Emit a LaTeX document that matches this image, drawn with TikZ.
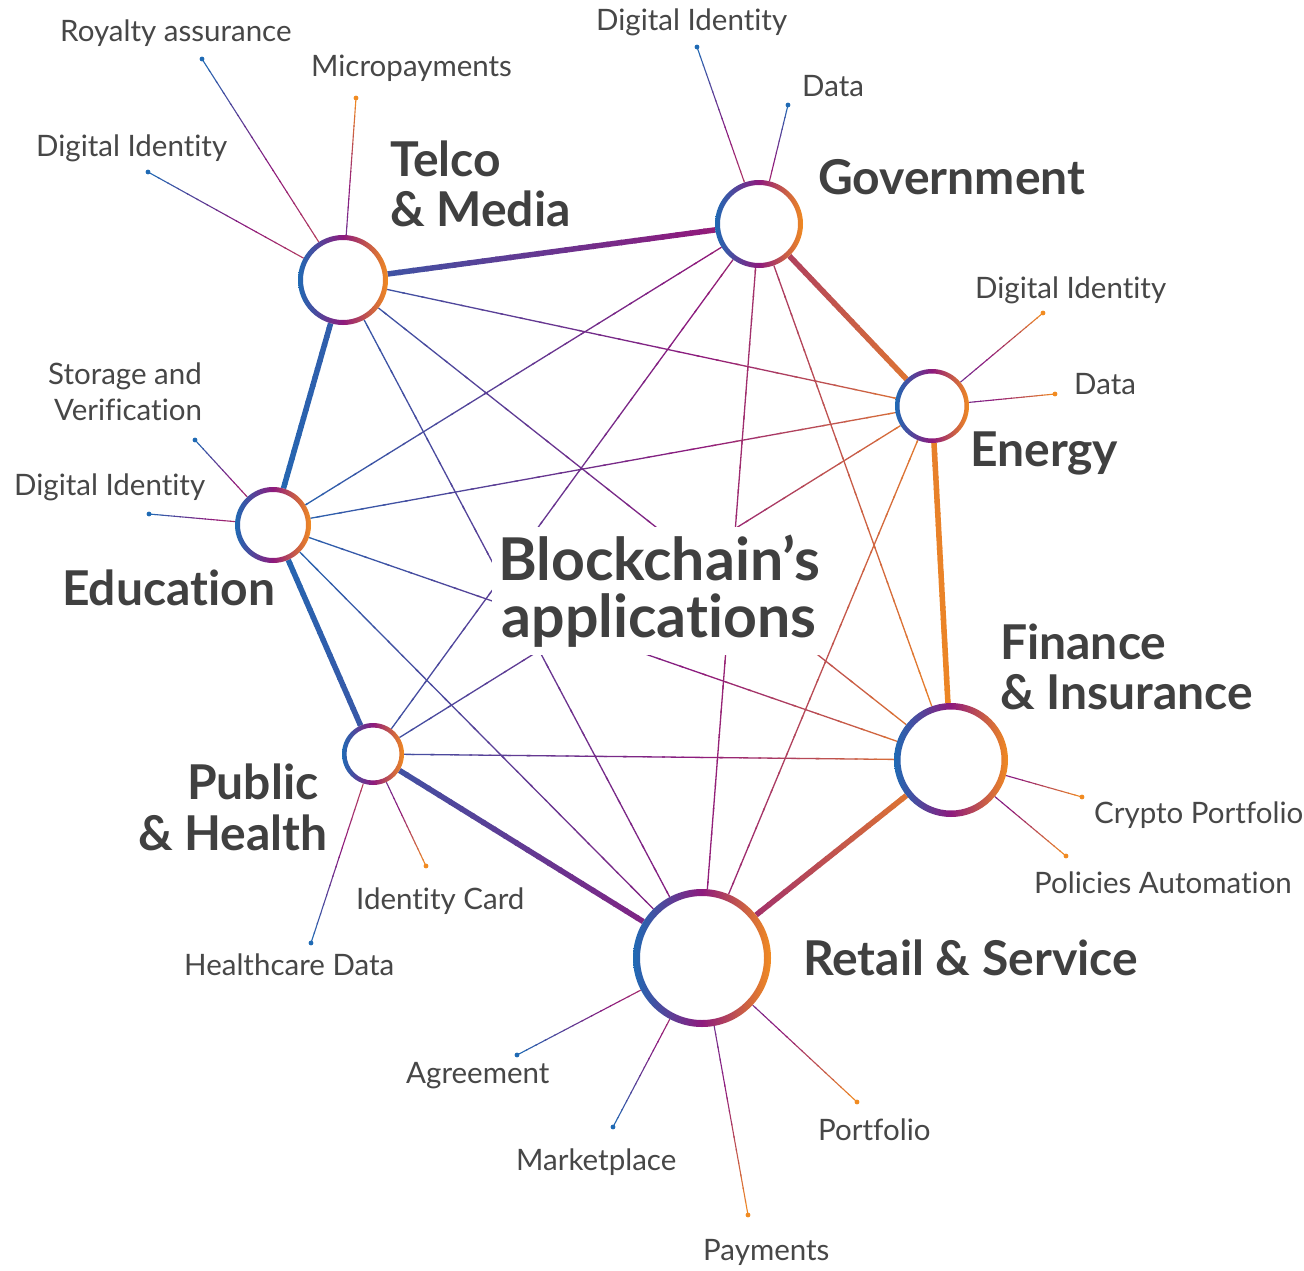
\documentclass[tikz,border=0pt]{standalone}
\usepackage{fontspec}
\setmainfont{Lato}[Ligatures=NoCommon]
\usetikzlibrary{calc}
\definecolor{cblue}{HTML}{1F6AB4}
\definecolor{cpurple}{HTML}{8E1A7D}
\definecolor{corange}{HTML}{F18B21}
\definecolor{cred}{HTML}{C9524E}
\definecolor{cviolet}{HTML}{5A4FA3}
\definecolor{txt}{HTML}{404040}
\definecolor{lbltext}{HTML}{474747}

% colour of a point from its x position (global left-to-right gradient)
\newcommand\gradcolor[1]{%
  \pgfmathsetmacro\gpa{max(0,min(100,(#1-260)/4.4))}%
  \pgfmathsetmacro\gpb{max(0,min(100,(#1-700)/2.6))}%
  \ifdim #1 pt<700pt \colorlet{segc}{cpurple!\gpa!cblue}\else\colorlet{segc}{corange!\gpb!cpurple}\fi}

% gradient connector between two named nodes
\newcommand\gline[3]{%
  \foreach \gi in {0,...,29}{%
    \pgfmathsetmacro\gta{\gi/30}%
    \pgfmathsetmacro\gtb{min(1,(\gi+1.15)/30)}%
    \pgfmathsetmacro\gtm{(\gi+0.5)/30}%
    \path ($(#2)!\gtm!(#3)$);\pgfgetlastxy{\gxx}{\gyy}%
    \pgfmathsetmacro\gxv{\gxx}%
    \gradcolor{\gxv}%
    \draw[line width=#1,segc] ($(#2)!\gta!(#3)$) -- ($(#2)!\gtb!(#3)$);%
  }}

% leaf line: dot, node, colour at dot, middle colour, colour at node
\newcommand\leaf[5]{%
  \foreach \gi in {0,...,19}{%
    \pgfmathsetmacro\gta{\gi/20}%
    \pgfmathsetmacro\gtb{min(1,(\gi+1.15)/20)}%
    \pgfmathsetmacro\gpm{max(0,min(100,(\gi+0.5)*10))}%
    \pgfmathsetmacro\gpn{max(0,min(100,(\gi-9.5)*10))}%
    \ifnum\gi<10 \colorlet{segc}{#4!\gpm!#3}\else\colorlet{segc}{#5!\gpn!#4}\fi
    \draw[line width=1.1pt,segc] ($(#1)!\gta!(#2)$) -- ($(#1)!\gtb!(#2)$);%
  }}

% gradient ring on a node
\newcommand\ring[3]{%
  \pgfmathsetmacro\rin{#2-#3}%
  \fill[white] (#1.center) circle (#2pt);
  \shade[left color=cblue, right color=corange, middle color=cpurple, even odd rule]
    (#1.center) circle (#2pt) (#1.center) circle (\rin pt);}

\begin{document}
\begin{tikzpicture}[x=1pt,y=-1pt,
  nd/.style={circle,inner sep=0pt,outer sep=0pt},
  lbl/.style={font=\fontsize{29.5}{32}\selectfont, text=lbltext, anchor=base west, inner sep=0pt},
  ttl/.style={font=\fontsize{48}{50}\selectfont\bfseries, text=txt, anchor=base west, inner sep=0pt}
 ]
\useasboundingbox (0,0) rectangle (1304,1271);
\fill[white] (0,0) rectangle (1304,1271);

% nodes (rings drawn later)
\node[nd,minimum size=90pt]  (telco)   at (343,280) {};
\node[nd,minimum size=88pt]  (gov)     at (759,224) {};
\node[nd,minimum size=74pt]  (energy)  at (932,406) {};
\node[nd,minimum size=114pt] (finance) at (951,760) {};
\node[nd,minimum size=138pt] (retail)  at (702,958) {};
\node[nd,minimum size=62pt]  (public)  at (373,754) {};
\node[nd,minimum size=76pt]  (edu)     at (273,525) {};

% leaf end points
\coordinate (r1) at (202,59);
\coordinate (r2) at (356,98);
\coordinate (r3) at (148,172);
\coordinate (g1) at (697,47);
\coordinate (g2) at (788,105);
\coordinate (e1) at (1043,313);
\coordinate (e2) at (1055,394);
\coordinate (u1) at (195,440);
\coordinate (u2) at (149,514);
\coordinate (p1) at (426,866);
\coordinate (p2) at (311,943);
\coordinate (f1) at (1082,797);
\coordinate (f2) at (1066,856);
\coordinate (t1) at (517,1055);
\coordinate (t2) at (613,1127);
\coordinate (t3) at (748,1215);
\coordinate (t4) at (857,1102);

% thin connectors
\gline{1.3pt}{telco}{energy}
\gline{1.3pt}{telco}{finance}
\gline{1.3pt}{telco}{retail}
\gline{1.3pt}{edu}{gov}
\gline{1.3pt}{public}{gov}
\gline{1.3pt}{retail}{gov}
\gline{1.3pt}{gov}{finance}
\gline{1.3pt}{edu}{energy}
\gline{1.3pt}{retail}{energy}
\gline{1.3pt}{public}{energy}
\gline{1.3pt}{edu}{finance}
\gline{1.3pt}{edu}{retail}
\gline{1.3pt}{public}{finance}

% thick connectors
\gline{5.5pt}{telco}{gov}
\gline{5.5pt}{gov}{energy}
\gline{5.5pt}{energy}{finance}
\gline{5.5pt}{retail}{finance}
\gline{5.5pt}{public}{retail}
\gline{5.5pt}{edu}{public}
\gline{5.5pt}{edu}{telco}

% leaf lines
\leaf{r1}{telco}{cblue}{cpurple}{cred}
\leaf{r2}{telco}{corange}{cpurple}{cviolet}
\leaf{r3}{telco}{cblue}{cpurple}{cred}
\leaf{g1}{gov}{cblue}{cpurple}{cred}
\leaf{g2}{gov}{cblue}{cpurple}{cred}
\leaf{e1}{energy}{corange}{cpurple}{cviolet}
\leaf{e2}{energy}{corange}{cpurple}{cviolet}
\leaf{u1}{edu}{cblue}{cpurple}{cred}
\leaf{u2}{edu}{cblue}{cpurple}{cred}
\leaf{p1}{public}{corange}{cpurple}{cviolet}
\leaf{p2}{public}{cblue}{cpurple}{cred}
\leaf{f1}{finance}{corange}{cpurple}{cviolet}
\leaf{f2}{finance}{corange}{cpurple}{cviolet}
\leaf{t1}{retail}{cblue}{cpurple}{cred}
\leaf{t2}{retail}{cblue}{cpurple}{cred}
\leaf{t3}{retail}{corange}{cpurple}{cviolet}
\leaf{t4}{retail}{corange}{cpurple}{cviolet}

% dots
\foreach \d in {r1,r3,g1,g2,u1,u2,p2,t1,t2}{\fill[cblue] (\d) circle (2.4pt);}
\foreach \d in {r2,e1,e2,p1,f1,f2,t3,t4}{\fill[corange] (\d) circle (2.4pt);}

% rings
\ring{telco}{45}{5}
\ring{gov}{44}{5}
\ring{energy}{37}{4.5}
\ring{finance}{57}{6.5}
\ring{retail}{69}{7}
\ring{public}{31}{4.5}
\ring{edu}{38}{5}

% centre title (white box masks the lines)
\node[fill=white, inner sep=0pt, minimum width=334pt, minimum height=128pt, align=center,
      font=\fontsize{59}{57}\selectfont\bfseries, text=txt] (centre) at (659,591)
      {Blockchain’s\\applications};

% node titles
\node[ttl] (tTelco1) at (390,176) {Telco};
\node[ttl] (tTelco2) at (390,226) {\& Media};
\node[ttl] (tGov) at (818,194) {Government};
\node[ttl] (tEnergy) at (970,466) {Energy};
\node[ttl] (tFin1) at (1000,659) {Finance};
\node[ttl] (tFin2) at (1000,709) {\& Insurance};
\node[ttl] (tRetail) at (803,975) {Retail \& Service};
\node[ttl] (tPub1) at (187,799) {Public};
\node[ttl] (tPub2) at (138,850) {\& Health};
\node[ttl] (tEdu) at (62,605) {Education};

% leaf labels
\node[lbl] (lr1) at (60,42) {Royalty assurance};
\node[lbl] (lr2) at (311,77) {Micropayments};
\node[lbl] (lr3) at (36,157) {Digital Identity};
\node[lbl] (lg1) at (596,31) {Digital Identity};
\node[lbl] (lg2) at (802,97) {Data};
\node[lbl] (le1) at (975,298) {Digital Identity};
\node[lbl] (le2) at (1074,394) {Data};
\node[lbl, anchor=base] (lu1a) at (125,384) {Storage and};
\node[lbl, anchor=base] (lu1b) at (128,420) {Verification};
\node[lbl] (lu2) at (14,495) {Digital Identity};
\node[lbl] (lp1) at (356,909) {Identity Card};
\node[lbl] (lp2) at (184,975) {Healthcare Data};
\node[lbl] (lf1) at (1094,823) {Crypto Portfolio};
\node[lbl] (lf2) at (1034,893) {Policies Automation};
\node[lbl] (lt1) at (406,1083) {Agreement};
\node[lbl] (lt2) at (516,1170) {Marketplace};
\node[lbl] (lt3) at (703,1260) {Payments};
\node[lbl] (lt4) at (818,1140) {Portfolio};
\end{tikzpicture}
\end{document}
